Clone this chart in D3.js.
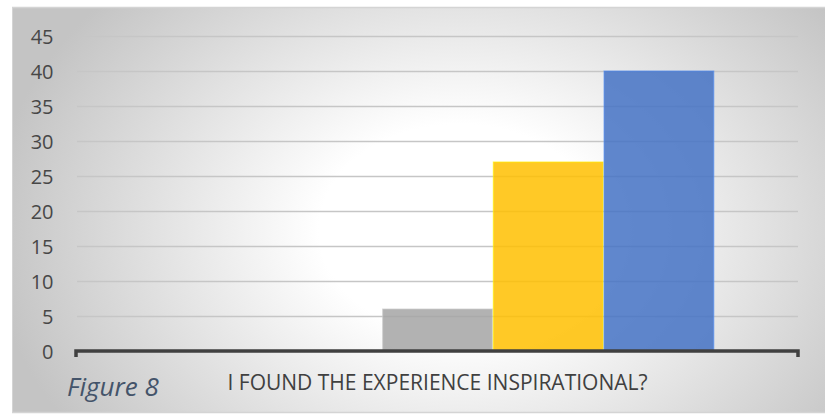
<!DOCTYPE html>
<html><head><meta charset="utf-8">
<script src="https://cdn.jsdelivr.net/npm/d3@7"></script>
<style>body{margin:0;background:#fff}svg{display:block}</style>
</head><body>
<svg id="c" width="825" height="414"></svg>
<script>
const category = ["I FOUND THE EXPERIENCE INSPIRATIONAL?"];
const seriesNames = ["Strongly disagree","Disagree","Neutral","Agree","Strongly agree"];
const seriesValues = [0, 0, 6, 27, 40];
const seriesColors = ["#4472C4","#ED7D31","#A5A5A5","#FFC000","#4472C4"];
const yTicks = [0,5,10,15,20,25,30,35,40,45];
const caption = "Figure 8";

(function(){
const svg = d3.select("#c");
const defs = svg.append("defs");
const rg = defs.append("radialGradient").attr("id","bg")
  .attr("gradientUnits","userSpaceOnUse").attr("cx",460).attr("cy",230).attr("r",470)
  .attr("gradientTransform","translate(460,230) scale(1,0.75) translate(-460,-230)");
rg.append("stop").attr("offset","0").attr("stop-color","#ffffff");
rg.append("stop").attr("offset","0.3").attr("stop-color","#ffffff");
rg.append("stop").attr("offset","1").attr("stop-color","#c4c4c4");

svg.append("rect").attr("x",12).attr("y",7).attr("width",825).attr("height",406)
  .attr("fill","url(#bg)");
svg.append("line").attr("x1",12).attr("x2",825).attr("y1",7.5).attr("y2",7.5).attr("stroke","#d4d4d4").attr("stroke-width",1.5);
svg.append("line").attr("x1",12.5).attr("x2",12.5).attr("y1",7).attr("y2",413).attr("stroke","#d4d4d4").attr("stroke-width",1);
svg.append("line").attr("x1",12).attr("x2",825).attr("y1",412.5).attr("y2",412.5).attr("stroke","#d4d4d4").attr("stroke-width",1.5);

const pl = 77, pr = 798, pt = 36, pb = 351;
const y = d3.scaleLinear().domain([0,45]).range([pb, pt]);
const x0 = d3.scaleBand().domain(category).range([pl,pr]).paddingInner(0).paddingOuter(0.1513);
const x1 = d3.scaleBand().domain(seriesNames).range([0, x0.bandwidth()]).padding(0);

svg.append("g").selectAll("line").data(yTicks.filter(d=>d>0)).join("line")
  .attr("x1",pl).attr("x2",pr)
  .attr("y1",d=>Math.round(y(d))+0.5).attr("y2",d=>Math.round(y(d))+0.5)
  .attr("stroke","#c6c6c6").attr("stroke-width",1.3);

const yAxis = d3.axisLeft(y).tickValues(yTicks).tickSize(0).tickPadding(0);
const ga = svg.append("g").attr("transform",`translate(53.5,0)`).call(yAxis);
ga.select(".domain").remove();
ga.selectAll("text").attr("font-family","'Open Sans', sans-serif").attr("font-size",20)
  .attr("fill","#474747").attr("dy","0.36em");

const data = seriesNames.map((s,i)=>({s, v: seriesValues[i], c: seriesColors[i]}));
svg.append("g").selectAll("rect").data(data.filter(d=>d.v>0)).join("rect")
  .attr("x",d=>x0(category[0]) + x1(d.s)+0.5)
  .attr("width",x1.bandwidth()-1)
  .attr("y",d=>y(d.v))
  .attr("height",d=>y(0)-y(d.v))
  .attr("fill",d=>d.c).attr("fill-opacity",0.85)
  .attr("stroke",d=>d3.color(d.c).brighter(0.6)).attr("stroke-opacity",0.6).attr("stroke-width",1.2);

svg.append("path").attr("d",`M${pl-1},357V${pb}H${pr}V357`)
  .attr("fill","none").attr("stroke","#404040").attr("stroke-width",3.5);

svg.append("text").attr("x",(pl+pr)/2).attr("y",390).attr("text-anchor","middle")
  .attr("font-family","'Open Sans', sans-serif").attr("font-size",21).attr("fill","#404040")
  .text(category[0]);

svg.append("text").attr("x",67).attr("y",396)
  .attr("font-family","'Open Sans', sans-serif").attr("font-style","italic").attr("font-size",26)
  .attr("fill","#44546A").text(caption);
})();
</script>
</body></html>
